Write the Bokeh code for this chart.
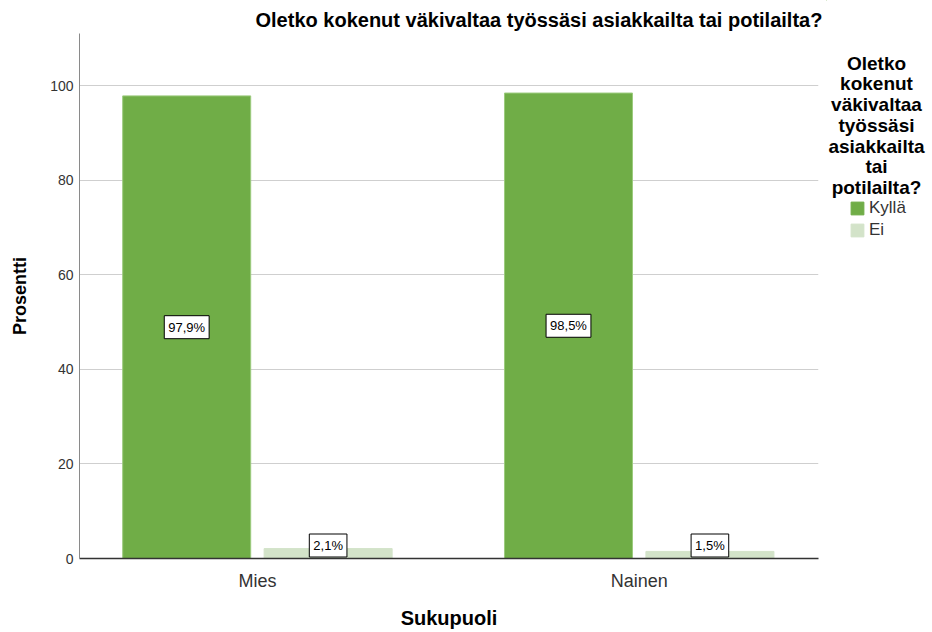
from bokeh.plotting import figure
from bokeh.layouts import row
from bokeh.models import ColumnDataSource, FixedTicker, Legend, LegendItem, Range1d, Title
from bokeh.transform import dodge
from bokeh.embed import file_html
from bokeh.resources import INLINE
from bokeh.core.properties import value

# ---- data ----
categories = ["Mies", "Nainen"]
series = ["Kyllä", "Ei"]
kylla = [97.9, 98.5]
ei = [2.1, 1.5]
y_ticks = [0, 20, 40, 60, 80, 100]
title_text = "Oletko kokenut väkivaltaa työssäsi asiakkailta tai potilailta?"
legend_title_lines = ["Oletko", "kokenut", "väkivaltaa", "työssäsi",
                      "asiakkailta", "tai", "potilailta?"]
x_label = "Sukupuoli"
y_label = "Prosentti"

FONT = "Liberation Sans"
C_YES = "#70AD47"
C_NO = "#D3E3C9"
colors = [C_YES, C_NO]


def fmt(v):
    return f"{v:.1f}".replace(".", ",") + "%"


xpos = list(range(len(categories)))
src = ColumnDataSource(dict(
    x=xpos,
    kylla=kylla,
    ei=ei,
    kylla_lbl=[fmt(v) for v in kylla],
    ei_lbl=[fmt(v) for v in ei],
    kylla_y=[v / 2 for v in kylla],
    ei_y=[max(v / 2, 2.75) for v in ei],
))

PW = 826           # width of the chart part
QW = 932 - PW      # width of the legend part
H = 632

# ---- main chart ----
p = figure(width=PW, height=H, output_backend="svg", toolbar_location=None,
           frame_align=False,
           x_range=Range1d(-0.466, 1.4696), y_range=Range1d(0, 111.1),
           min_border_left=79, min_border_right=PW - 818,
           min_border_top=33, min_border_bottom=74)
p.title = Title(text=title_text, align="left", offset=176, standoff=6,
                vertical_align="bottom",
                text_font=FONT, text_font_size="20px", text_font_style="bold",
                text_color="black")
p.background_fill_color = "white"
p.border_fill_color = "white"
p.outline_line_color = None

OFF = 0.1852
W = 0.3353
p.vbar(x=dodge("x", -OFF, range=p.x_range), top="kylla", width=W, source=src,
       fill_color=C_YES, line_color="#9ccb7e", line_width=1)
p.vbar(x=dodge("x", OFF, range=p.x_range), top="ei", width=W, source=src,
       fill_color=C_NO, line_color=C_NO, line_width=1)

lbl_kw = dict(source=src, text_align="center", text_baseline="middle",
              text_font=value(FONT), text_font_size="13px", text_color="black",
              background_fill_color="white", border_line_color="black",
              border_line_width=1, padding=4)
p.text(x=dodge("x", -OFF, range=p.x_range), y="kylla_y", text="kylla_lbl", **lbl_kw)
p.text(x=dodge("x", OFF, range=p.x_range), y="ei_y", text="ei_lbl", **lbl_kw)

p.yaxis.ticker = FixedTicker(ticks=y_ticks)
p.yaxis.major_tick_line_color = None
p.yaxis.minor_tick_line_color = None
p.yaxis.major_tick_out = 0
p.yaxis.axis_line_color = "#8a8a8a"
p.yaxis.major_label_text_font = FONT
p.yaxis.major_label_text_font_size = "14px"
p.yaxis.major_label_text_color = "#333333"
p.yaxis.major_label_standoff = 6
p.yaxis.axis_label = y_label
p.yaxis.axis_label_text_font = FONT
p.yaxis.axis_label_text_font_size = "18px"
p.yaxis.axis_label_text_font_style = "bold"
p.yaxis.axis_label_text_color = "black"
p.yaxis.axis_label_standoff = 17

p.xaxis.ticker = FixedTicker(ticks=xpos)
p.xaxis.major_label_overrides = {i: c for i, c in zip(xpos, categories)}
p.xaxis.major_tick_line_color = None
p.xaxis.minor_tick_line_color = None
p.xaxis.major_tick_out = 0
p.xaxis.axis_line_color = "#333333"
p.xaxis.axis_line_width = 1.5
p.xaxis.major_label_text_font = FONT
p.xaxis.major_label_text_font_size = "18px"
p.xaxis.major_label_text_color = "#333333"
p.xaxis.major_label_standoff = 12
p.xaxis.axis_label = x_label
p.xaxis.axis_label_text_font = FONT
p.xaxis.axis_label_text_font_size = "20px"
p.xaxis.axis_label_text_font_style = "bold"
p.xaxis.axis_label_text_color = "black"
p.xaxis.axis_label_standoff = 13

p.xgrid.visible = False
p.ygrid.grid_line_color = "#cfcfcf"
p.ygrid.grid_line_width = 1

# ---- legend panel (pixel coordinates, y downwards) ----
q = figure(width=QW, height=H, output_backend="svg", toolbar_location=None, title=None,
           x_axis_location=None, y_axis_location=None, frame_align=False,
           x_range=Range1d(0, QW), y_range=Range1d(H, 0),
           min_border_left=0, min_border_right=0, min_border_top=0, min_border_bottom=0)
q.outline_line_color = None
q.background_fill_color = "white"
q.border_fill_color = "white"
q.grid.visible = False

lt = ColumnDataSource(dict(
    x=[876 - PW] * len(legend_title_lines),
    y=[62.7 + 20.7 * i for i in range(len(legend_title_lines))],
    t=legend_title_lines,
))
q.text(x="x", y="y", text="t", source=lt, text_align="center", text_baseline="alphabetic",
       text_font=value(FONT), text_font_size="19px", text_font_style="bold",
       text_color="black")

# swatch renderers for the legend (zero-height, outside the visible range)
swatches = [q.vbar(x=[-1000], bottom=[0], top=[0], width=1, fill_color=c, line_color=c)
            for c in colors]
legend = Legend(items=[LegendItem(label=s, renderers=[r]) for s, r in zip(series, swatches)],
                location=(849 - PW, H - 240), orientation="vertical",
                glyph_width=16, glyph_height=16, label_height=20, label_standoff=4,
                spacing=2, padding=0, margin=0,
                label_text_font=FONT, label_text_font_size="17px",
                label_text_color="#333333",
                border_line_color=None, background_fill_alpha=0)
q.add_layout(legend)

layout = row(p, q, spacing=0)
open("out.html", "w").write(file_html(layout, INLINE))
